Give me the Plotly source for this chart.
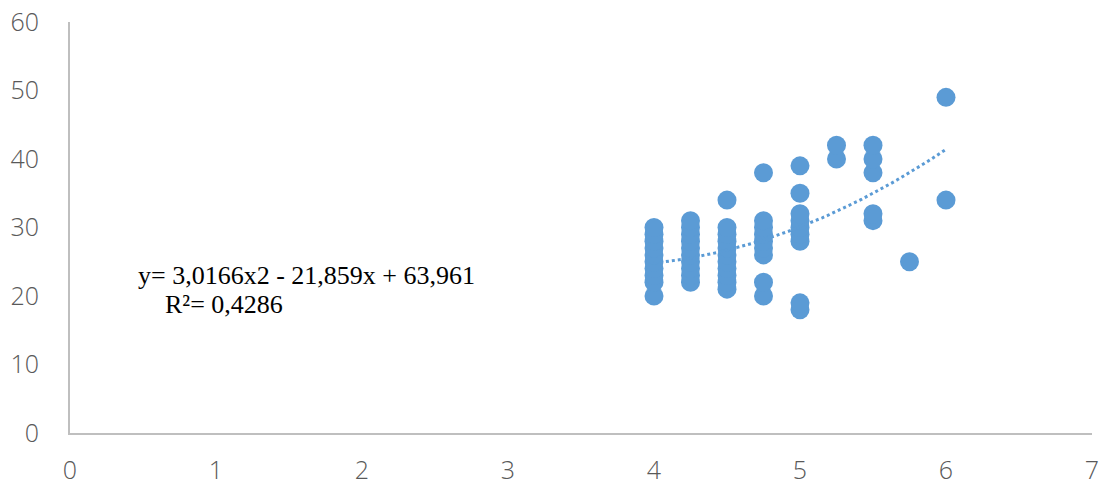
import numpy as np
import plotly.graph_objects as go

# Observed values, grouped by x
x_vals = [4] * 10 + [4.25] * 10 + [4.5] * 11 + [4.75] * 9 + [5] * 9 + [5.25] * 2 + [5.5] * 5 + [5.75] + [6] * 2
y_vals = (
    [20, 22, 23, 24, 25, 26, 27, 28, 29, 30]
    + [22, 23, 24, 25, 26, 27, 28, 29, 30, 31]
    + [21, 22, 23, 24, 25, 26, 27, 28, 29, 30, 34]
    + [20, 22, 26, 27, 28, 29, 30, 31, 38]
    + [18, 19, 28, 29, 30, 31, 32, 35, 39]
    + [40, 42]
    + [31, 32, 38, 40, 42]
    + [25]
    + [34, 49]
)

# Polynomial trendline (order 2)
coef_a, coef_b, coef_c = 3.0166, -21.859, 63.961
r_squared = 0.4286
trend_x = np.linspace(4, 6, 60)
trend_y = coef_a * trend_x**2 + coef_b * trend_x + coef_c

x_ticks = [0, 1, 2, 3, 4, 5, 6, 7]
y_ticks = [0, 10, 20, 30, 40, 50, 60]

blue = "#5B9BD5"
axis_grey = "#BFBFBF"
label_grey = "#595959"

fig = go.Figure()
fig.add_trace(go.Scatter(
    x=x_vals, y=y_vals, mode="markers",
    marker=dict(size=19, color=blue, line=dict(width=0)),
    showlegend=False, cliponaxis=False,
))
fig.add_trace(go.Scatter(
    x=trend_x, y=trend_y, mode="lines",
    line=dict(color=blue, width=3, dash="dot"),
    showlegend=False,
))

fig.add_annotation(
    x=0.45, y=23.0, xref="x", yref="y", xanchor="left", yanchor="middle",
    text="y= 3,0166x2 - 21,859x + 63,961", showarrow=False,
    font=dict(family="Liberation Serif", size=26, color="#000000"),
)
fig.add_annotation(
    x=0.64, y=18.7, xref="x", yref="y", xanchor="left", yanchor="middle",
    text=f"R²= {r_squared}".replace(".", ","), showarrow=False,
    font=dict(family="Liberation Serif", size=26, color="#000000"),
)

tick_font = dict(family="Open Sans", size=25, color=label_grey, weight=300)

fig.update_xaxes(
    range=[0, 7], tickvals=x_ticks, ticktext=[str(v) for v in x_ticks],
    showgrid=False, zeroline=False, showline=True, linecolor=axis_grey, linewidth=2,
    ticks="", tickfont=tick_font, ticklabelstandoff=14, automargin=False,
)
fig.update_yaxes(
    range=[0, 60], tickvals=y_ticks, ticktext=[str(v) for v in y_ticks],
    showgrid=False, zeroline=False, showline=True, linecolor=axis_grey, linewidth=2,
    ticks="", tickfont=tick_font, ticklabelstandoff=24, automargin=False,
)

fig.update_layout(
    width=1109, height=488,
    margin=dict(l=70, r=17, t=22, b=55),
    paper_bgcolor="white", plot_bgcolor="white",
)

fig.write_html("out.html")
